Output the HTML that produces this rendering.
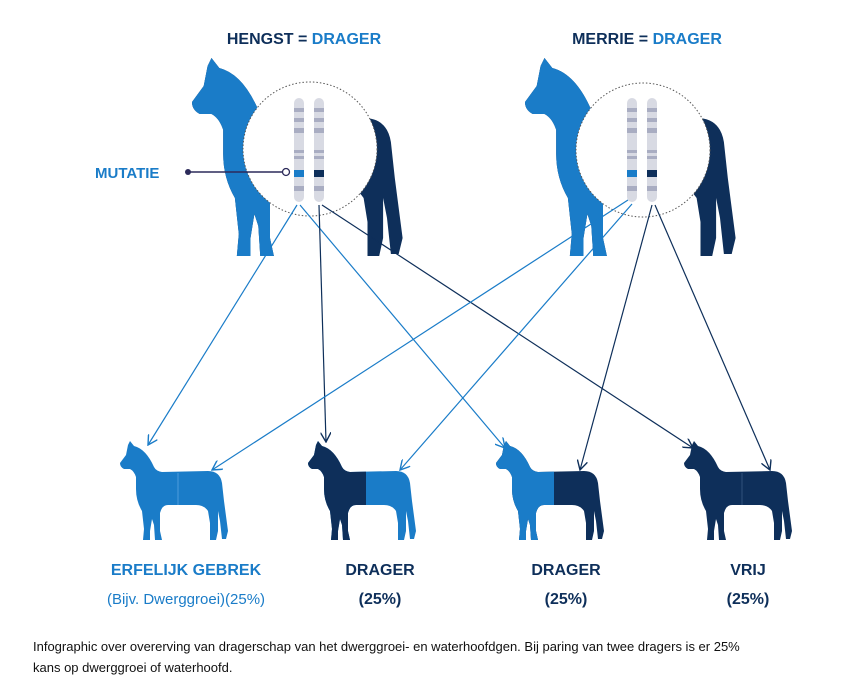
<!DOCTYPE html>
<html><head><meta charset="utf-8"><style>
html,body{margin:0;padding:0;background:#fff;}
svg{display:block;}
text{font-family:"Liberation Sans",sans-serif;}
</style></head><body>
<svg width="842" height="697" viewBox="0 0 842 697" xmlns="http://www.w3.org/2000/svg">
<defs>
<path id="h" d="M10,0 L14,5 Q26,8 34,26 Q36,30 42,31 L88,30 Q100,30 102,42 L104,60 L108,90 L106,98 L102,98 L100,80 L98,70 L98,90 L96,99 L90,99 L90,82 L88,70 Q84,64 76,64 L48,64 Q42,64 40,72 L40,90 L42,99 L35,99 L34,84 L32,78 L30,90 L30,99 L23,99 L24,88 L22,70 Q16,60 16,48 L16,36 Q14,30 10,28 L4,28 Q0,26 0,22 L6,14 L8,4 Z"/>
<clipPath id="L"><rect x="-5" y="-5" width="63" height="110"/></clipPath>
<marker id="aL" viewBox="0 0 10 10" refX="9" refY="5" markerWidth="9" markerHeight="9" orient="auto"><path d="M0,0 L9,5 L0,10" fill="none" stroke="#1a7cc8" stroke-width="1.3"/></marker>
<marker id="aD" viewBox="0 0 10 10" refX="9" refY="5" markerWidth="9" markerHeight="9" orient="auto"><path d="M0,0 L9,5 L0,10" fill="none" stroke="#0e2f5a" stroke-width="1.3"/></marker>
<g id="chrom">
<rect x="-5" y="0" width="10" height="104" rx="5" fill="#d8dae3"/>
<rect x="-5" y="10" width="10" height="4" fill="#a9adc2"/>
<rect x="-5" y="20" width="10" height="4" fill="#a9adc2"/>
<rect x="-5" y="30" width="10" height="5" fill="#a9adc2"/>
<rect x="-5" y="52" width="10" height="3" fill="#a9adc2"/>
<rect x="-5" y="58" width="10" height="3" fill="#a9adc2"/>
<rect x="-5" y="88" width="10" height="5" fill="#a9adc2"/>
</g>
</defs>

<g transform="translate(192,58) scale(1.95,2)">
<use href="#h" fill="#0e2f5a"/><use href="#h" fill="#1a7cc8" clip-path="url(#L)"/>
</g>
<g transform="translate(525,58) scale(1.95,2)">
<use href="#h" fill="#0e2f5a"/><use href="#h" fill="#1a7cc8" clip-path="url(#L)"/>
</g>
<circle cx="310" cy="149" r="67" fill="#fff" stroke="#555" stroke-width="1" stroke-dasharray="1.5,2"/>
<circle cx="643" cy="150" r="67" fill="#fff" stroke="#555" stroke-width="1" stroke-dasharray="1.5,2"/>
<g transform="translate(299,98)"><use href="#chrom"/><rect x="-5" y="72" width="10" height="7" fill="#1a7cc8"/></g>
<g transform="translate(319,98)"><use href="#chrom"/><rect x="-5" y="72" width="10" height="7" fill="#0e2f5a"/></g>
<g transform="translate(632,98)"><use href="#chrom"/><rect x="-5" y="72" width="10" height="7" fill="#1a7cc8"/></g>
<g transform="translate(652,98)"><use href="#chrom"/><rect x="-5" y="72" width="10" height="7" fill="#0e2f5a"/></g>

<line x1="188" y1="172" x2="283" y2="172" stroke="#2c2a5a" stroke-width="1.5"/>
<circle cx="188" cy="172" r="3" fill="#2c2a5a"/>
<circle cx="286" cy="172" r="3.5" fill="#fff" stroke="#2c2a5a" stroke-width="1.3"/>
<text x="95" y="178" font-size="15" font-weight="bold" fill="#1a7cc8">MUTATIE</text>

<text x="304" y="44" font-size="16" font-weight="bold" text-anchor="middle"><tspan fill="#0e2f5a">HENGST = </tspan><tspan fill="#1a7cc8">DRAGER</tspan></text>
<text x="647" y="44" font-size="16" font-weight="bold" text-anchor="middle"><tspan fill="#0e2f5a">MERRIE = </tspan><tspan fill="#1a7cc8">DRAGER</tspan></text>

<g fill="none" stroke-width="1.2">
<line x1="297" y1="205" x2="148" y2="445" stroke="#1a7cc8" marker-end="url(#aL)"/>
<line x1="300" y1="205" x2="505" y2="448" stroke="#1a7cc8" marker-end="url(#aL)"/>
<line x1="319" y1="205" x2="326" y2="442" stroke="#0e2f5a" marker-end="url(#aD)"/>
<line x1="322" y1="205" x2="693" y2="448" stroke="#0e2f5a" marker-end="url(#aD)"/>
<line x1="628" y1="200" x2="212" y2="470" stroke="#1a7cc8" marker-end="url(#aL)"/>
<line x1="632" y1="204" x2="400" y2="470" stroke="#1a7cc8" marker-end="url(#aL)"/>
<line x1="652" y1="205" x2="580" y2="470" stroke="#0e2f5a" marker-end="url(#aD)"/>
<line x1="655" y1="205" x2="770" y2="470" stroke="#0e2f5a" marker-end="url(#aD)"/>
</g>

<g transform="translate(120,441)"><use href="#h" fill="#1a7cc8"/><line x1="58" y1="32" x2="58" y2="64" stroke="#5aa6e0" stroke-width="0.8"/></g>
<g transform="translate(308,441)"><use href="#h" fill="#1a7cc8"/><use href="#h" fill="#0e2f5a" clip-path="url(#L)"/></g>
<g transform="translate(496,441)"><use href="#h" fill="#0e2f5a"/><use href="#h" fill="#1a7cc8" clip-path="url(#L)"/></g>
<g transform="translate(684,441)"><use href="#h" fill="#0e2f5a"/><line x1="58" y1="32" x2="58" y2="64" stroke="#3a5a85" stroke-width="0.8"/></g>

<g font-size="16" font-weight="bold" text-anchor="middle">
<text x="186" y="575" fill="#1a7cc8">ERFELIJK GEBREK</text>
<text x="380" y="575" fill="#0e2f5a">DRAGER</text>
<text x="566" y="575" fill="#0e2f5a">DRAGER</text>
<text x="748" y="575" fill="#0e2f5a">VRIJ</text>
<text x="380" y="604" fill="#0e2f5a">(25%)</text>
<text x="566" y="604" fill="#0e2f5a">(25%)</text>
<text x="748" y="604" fill="#0e2f5a">(25%)</text>
</g>
<text x="186" y="604" font-size="15" text-anchor="middle" fill="#1a7cc8">(Bijv. Dwerggroei)(25%)</text>

<text x="33" y="651" font-size="13" fill="#111">Infographic over overerving van dragerschap van het dwerggroei- en waterhoofdgen. Bij paring van twee dragers is er 25%</text>
<text x="33" y="672" font-size="13" fill="#111">kans op dwerggroei of waterhoofd.</text>
</svg>
</body></html>
